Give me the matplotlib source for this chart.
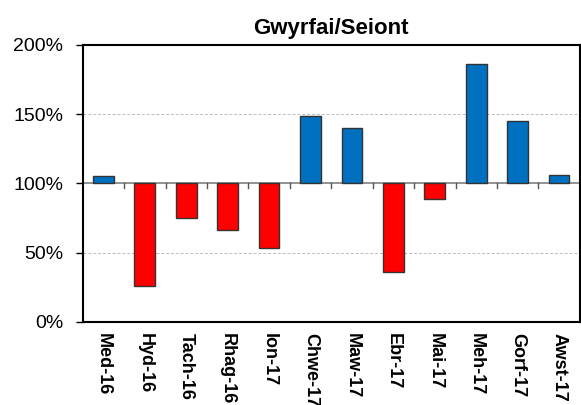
import numpy as np
import matplotlib.pyplot as plt

months = ["Med-16", "Hyd-16", "Tach-16", "Rhag-16", "Ion-17", "Chwe-17",
          "Maw-17", "Ebr-17", "Mai-17", "Meh-17", "Gorf-17", "Awst-17"]
values = [105, 26, 75, 66, 53, 149, 140, 36, 89, 186, 145, 106]
yticks = [0, 50, 100, 150, 200]

plt.rcParams['font.family'] = ['Liberation Sans', 'DejaVu Sans']

fig = plt.figure(figsize=(5.81, 4.05), dpi=100)
ax = fig.add_axes([0.1423, 0.2057, 0.8557, 0.6833])

x = np.arange(len(months))
heights = [v - 100 for v in values]
colors = ["#0070C0" if v >= 100 else "#FF0000" for v in values]
ax.bar(x, heights, bottom=100, width=0.5, color=colors,
       edgecolor="#333333", linewidth=1, zorder=3)

ax.set_xlim(-0.5, len(months) - 0.5)
ax.set_ylim(0, 200)
ax.set_yticks(yticks)
ax.set_yticklabels([f"{t}%" for t in yticks], fontsize=14)

for t in [50, 150]:
    ax.axhline(t, color="#BBBBBB", linestyle=(0, (3, 2)), linewidth=0.7, zorder=1)
ax.axhline(100, color="#808080", linewidth=1.2, zorder=2)

# category-boundary ticks hanging below the 100% line
for b in np.arange(0.5, len(months) - 0.5, 1):
    ax.plot([b, b], [100, 96.5], color="#555555", linewidth=1, zorder=2)

ax.set_xticks(x)
ax.set_xticklabels(months, rotation=-90, fontsize=13, fontweight="bold",
                   va="top", ha="center")
ax.tick_params(axis="x", length=0, pad=8)
ax.tick_params(axis="y", length=5, width=1, direction="out", pad=9)

for s in ax.spines.values():
    s.set_linewidth(1.5)
    s.set_color("black")

ax.set_title("Gwyrfai/Seiont", fontsize=16, fontweight="bold", pad=8)

fig.savefig("out.png", dpi=100)
